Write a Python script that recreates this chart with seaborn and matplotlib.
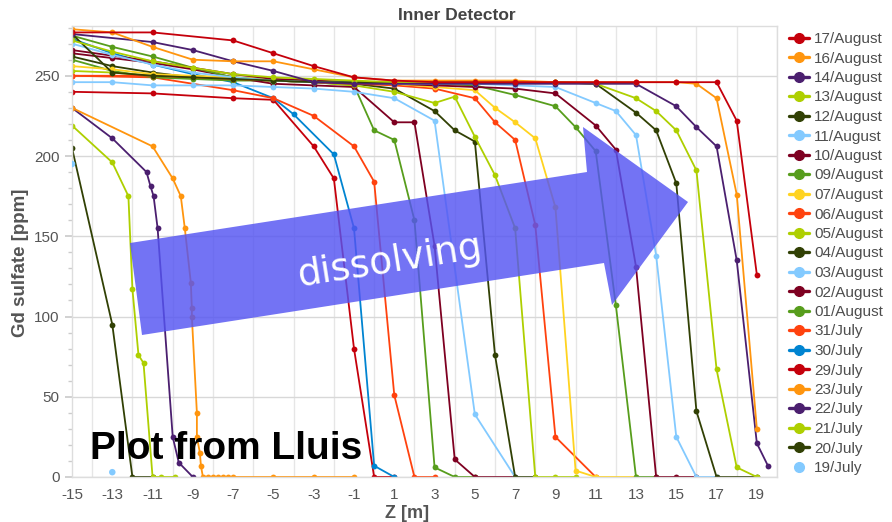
import matplotlib
matplotlib.use("Agg")
import matplotlib.pyplot as plt
import seaborn as sns
import pandas as pd
from matplotlib.lines import Line2D
from matplotlib.patches import Polygon

# ---------------- data ----------------
legend_dates = ["17/August", "16/August", "14/August", "13/August", "12/August", "11/August",
                "10/August", "09/August", "07/August", "06/August", "05/August", "04/August",
                "03/August", "02/August", "01/August", "31/July", "30/July", "29/July",
                "23/July", "22/July", "21/July", "20/July", "19/July"]
legend_colors = ["#c5000b", "#ff950e", "#4b1f6f", "#aecf00", "#314004", "#83caff",
                 "#7e0021", "#579d1c", "#ffd320", "#ff420e", "#aecf00", "#314004",
                 "#83caff", "#7e0021", "#579d1c", "#ff420e", "#0084d1", "#c5000b",
                 "#ff950e", "#4b1f6f", "#aecf00", "#314004", "#83caff"]

z_17aug = [-15, -11, -7, -5, -3, -1, 1, 3, 5, 7, 9, 11, 13, 15, 17, 18, 19]
v_17aug = [277, 277, 272, 264, 256, 249, 247, 246, 246, 246, 246, 246, 246, 246, 246, 222, 126]

z_16aug = [-15, -13, -11, -9, -7, -5, -3, -1, 1, 3, 5, 7, 9, 11, 13, 15, 16, 17, 18, 19]
v_16aug = [279, 277, 268, 260, 259, 259, 254, 249, 247, 247, 247, 247, 246, 246, 246, 246, 245, 236, 176, 30]

z_14aug = [-15, -11, -9, -7, -5, -3, -1, 1, 3, 5, 7, 9, 11, 13, 15, 16, 17, 18, 19, 19.55]
v_14aug = [276, 271, 266, 259, 253, 246, 245, 245, 245, 245, 245, 245, 245, 245, 231, 218, 206, 135, 21, 7]

z_13aug = [-15, -13, -11, -9, -7, -5, -3, -1, 1, 3, 5, 7, 9, 11, 13, 14, 15, 16, 17, 18, 19]
v_13aug = [272, 265, 259, 255, 251, 249, 248, 247, 246, 246, 246, 246, 246, 245, 236, 228, 216, 191, 67, 6, 0]

z_12aug = [-15, -13, -11, -9, -7, -5, -3, -1, 1, 3, 5, 7, 9, 11, 13, 14, 15, 16, 17, 19]
v_12aug = [276, 252, 250, 249, 248, 247, 246, 246, 246, 246, 246, 246, 246, 245, 227, 216, 183, 41, 0, 0]

z_11aug = [-15, -13, -11, -9, -7, -5, -3, -1, 1, 3, 5, 7, 9, 11, 12, 13, 14, 15, 16, 17]
v_11aug = [270, 263, 257, 252, 249, 247, 246, 246, 245, 245, 245, 244, 243, 233, 228, 213, 138, 25, 0, 0]

z_10aug = [-15, -11, -7, -5, -3, -1, 1, 3, 5, 7, 9, 11, 12, 13, 14, 15, 16]
v_10aug = [266, 259, 251, 248, 247, 246, 245, 244, 243, 242, 239, 219, 204, 131, 0, 0, 0]

z_09aug = [-15, -13, -11, -9, -7, -5, -3, -1, 1, 3, 5, 7, 9, 10, 11, 12, 13, 14]
v_09aug = [275, 268, 262, 255, 249, 247, 246, 246, 245, 245, 244, 238, 231, 218, 203, 107, 0, 0]

z_07aug = [-15, -13, -11, -9, -7, -5, -3, -1, 1, 3, 5, 6, 7, 8, 9, 10, 11, 13]
v_07aug = [256, 254, 251, 250, 249, 248, 247, 246, 245, 243, 241, 230, 221, 211, 168, 4, 0, 0]

z_06aug = [-15, -11, -7, -5, -3, -1, 1, 3, 5, 6, 7, 8, 9, 11]
v_06aug = [250, 250, 248, 247, 246, 245, 244, 242, 236, 221, 210, 157, 25, 0]

z_05aug = [-15, -13, -11, -9, -7, -5, -3, -1, 1, 3, 4, 5, 6, 7, 8, 9, 10]
v_05aug = [253, 252, 250, 249, 248, 247, 246, 244, 240, 233, 237, 212, 188, 155, 0, 0, 0]

z_04aug = [-15, -13, -11, -9, -7, -5, -3, -1, 1, 3, 4, 5, 6, 7, 8]
v_04aug = [262, 256, 252, 249, 248, 247, 246, 245, 242, 228, 216, 209, 76, 0, 0]

z_03aug = [-15, -13, -11, -9, -7, -5, -3, -1, 1, 3, 5, 7]
v_03aug = [246, 246, 244, 244, 244, 243, 242, 240, 236, 222, 39, 0]

z_02aug = [-15, -13, -11, -9, -7, -5, -3, -1, 1, 2, 3, 4, 5, 7]
v_02aug = [264, 261, 258, 254, 249, 245, 244, 243, 221, 221, 144, 11, 0, 0]

z_01aug = [-15, -13, -11, -9, -7, -5, -3, -1, 0, 1, 2, 3, 4, 5]
v_01aug = [260, 253, 249, 248, 247, 247, 246, 244, 216, 210, 160, 6, 0, 0]

z_31jul = [-15, -11, -7, -5, -3, -1, 0, 1, 2, 3]
v_31jul = [250, 249, 241, 236, 225, 206, 184, 51, 0, 0]

z_30jul = [-15, -13, -11, -9, -7, -5, -4, -2, -1, 0, 1]
v_30jul = [273, 264, 257, 251, 246, 236, 226, 201, 155, 7, 0]

z_29jul = [-15, -11, -7, -5, -3, -2, -1, 0, 1]
v_29jul = [240, 239, 236, 235, 206, 186, 80, 0, 0]

z_23jul = [-15, -11, -10, -9.6, -9.4, -9.1, -9.05, -9.05, -8.8, -8.8, -8.65, -8.6,
           -8.5, -8.25, -8, -7.75, -7.5, -7.25, -7, -5, -3, -1]
v_23jul = [230, 206, 186, 175, 155, 121, 105, 100, 40, 25, 15, 7,
           0, 0, 0, 0, 0, 0, 0, 0, 0, 0]

z_22jul = [-15, -13, -11.3, -11.1, -10.95, -10.75, -10, -9.7, -9]
v_22jul = [230, 211, 190, 181, 175, 155, 25, 9, 0]

z_21jul = [-15, -13, -12.2, -12, -11.7, -11.45, -11, -10.6, -9.9]
v_21jul = [219, 196, 175, 117, 76, 71, 0, 0, 0]

z_20jul = [-15, -13, -12, -11]
v_20jul = [205, 95, 0, 0]

z_19jul = [-15, -13]
v_19jul = [195, 3]

series = {
    "17/August": (z_17aug, v_17aug), "16/August": (z_16aug, v_16aug),
    "14/August": (z_14aug, v_14aug), "13/August": (z_13aug, v_13aug),
    "12/August": (z_12aug, v_12aug), "11/August": (z_11aug, v_11aug),
    "10/August": (z_10aug, v_10aug), "09/August": (z_09aug, v_09aug),
    "07/August": (z_07aug, v_07aug), "06/August": (z_06aug, v_06aug),
    "05/August": (z_05aug, v_05aug), "04/August": (z_04aug, v_04aug),
    "03/August": (z_03aug, v_03aug), "02/August": (z_02aug, v_02aug),
    "01/August": (z_01aug, v_01aug), "31/July": (z_31jul, v_31jul),
    "30/July": (z_30jul, v_30jul), "29/July": (z_29jul, v_29jul),
    "23/July": (z_23jul, v_23jul), "22/July": (z_22jul, v_22jul),
    "21/July": (z_21jul, v_21jul), "20/July": (z_20jul, v_20jul),
}

x_tick_labels = [-15, -13, -11, -9, -7, -5, -3, -1, 1, 3, 5, 7, 9, 11, 13, 15, 17, 19]
y_tick_labels = [0, 50, 100, 150, 200, 250]

# ---------------- figure ----------------
sns.set_theme(style="white")
plt.rcParams["font.family"] = ["Liberation Sans", "DejaVu Sans"]

W, H = 892, 522
fig = plt.figure(figsize=(W / 100, H / 100), dpi=100)
ax = fig.add_axes([72 / W, 1 - 477 / H, (777 - 72) / W, (477 - 26) / H])

palette = dict(zip(legend_dates, legend_colors))
rows = []
for name, (zs, vs) in series.items():
    for i, (z, v) in enumerate(zip(zs, vs)):
        rows.append({"Z": z, "Gd": v, "date": name, "i": i})
df = pd.DataFrame(rows)

draw_order = [d for d in legend_dates[::-1] if d in series]
sns.lineplot(data=df, x="Z", y="Gd", hue="date", hue_order=draw_order, palette=palette,
             estimator=None, sort=False, marker="o", markersize=4.2,
             markeredgewidth=0, linewidth=1.3, legend=False, ax=ax)
sns.scatterplot(x=z_19jul, y=v_19jul, color=palette["19/July"], s=22, edgecolor="none",
                ax=ax, zorder=3)

ax.set_xlim(-15, 20)
ax.set_ylim(0, 281)
ax.set_xticks(x_tick_labels)
ax.set_xticklabels([str(t) for t in x_tick_labels])
ax.set_xticks(list(range(-14, 21, 2)), minor=True)
ax.set_yticks(y_tick_labels)
ax.set_yticks(list(range(0, 281, 10)), minor=True)
ax.grid(False)
ax.grid(which="minor", axis="x", color="#e6e6e6", linewidth=1.0)
ax.grid(which="major", axis="y", color="#d8d8d8", linewidth=1.0)
ax.set_axisbelow(True)
ax.tick_params(axis="x", which="both", length=0, pad=8, labelsize=11, labelcolor="#555555")
ax.tick_params(axis="y", which="major", length=5, color="#cccccc", direction="out",
               pad=4, labelsize=11, labelcolor="#555555", left=True)
ax.tick_params(axis="y", which="minor", length=3, color="#cccccc", direction="out", left=True)
for s in ax.spines.values():
    s.set_color("#dddddd")
    s.set_linewidth(1.0)
ax.set_xlabel("")
ax.set_ylabel("")

fig.text(457 / W, 1 - 15 / H, "Inner Detector", ha="center", va="center",
         fontsize=12.5, fontweight="bold", color="#444444")
fig.text(21 / W, 1 - 263 / H, "Gd sulfate [ppm]", ha="center", va="center", rotation=90,
         fontsize=13.5, fontweight="bold", color="#555555")
fig.text(407 / W, 1 - 513 / H, "Z [m]", ha="center", va="center",
         fontsize=13, fontweight="bold", color="#555555")

# legend
handles = []
for d, c in zip(legend_dates, legend_colors):
    if d == "19/July":
        handles.append(Line2D([0], [0], color=c, marker="o", linestyle="none", markersize=7))
    else:
        handles.append(Line2D([0], [0], color=c, marker="o", linewidth=2.4, markersize=7))
leg = fig.legend(handles, legend_dates, loc="upper left", bbox_to_anchor=(789 / W, 1 - 32 / H),
                 frameon=False, fontsize=11, labelspacing=0.36, handlelength=1.3,
                 handletextpad=0.35, borderaxespad=0, borderpad=0)
for t in leg.get_texts():
    t.set_color("#4d4d4d")

# annotation arrow "dissolving"
arrow_px = [(130, 243), (587, 172), (583, 127), (688, 202), (612, 305), (604, 263), (142, 335)]
arrow = Polygon([(x / W, 1 - y / H) for x, y in arrow_px], closed=True,
                transform=fig.transFigure, facecolor=(0.33, 0.33, 0.95), edgecolor="none",
                alpha=0.82, zorder=10)
fig.patches.append(arrow)
fig.text(390 / W, 1 - 262 / H, "dissolving", ha="center", va="center", rotation=8.9,
         fontsize=27, color="white", family=["DejaVu Sans"], zorder=11)

fig.text(90 / W, 1 - 459 / H, "Plot from Lluis", ha="left", va="baseline",
         fontsize=28, fontweight="bold", color="black", zorder=11)

fig.savefig("out.png", dpi=100)
